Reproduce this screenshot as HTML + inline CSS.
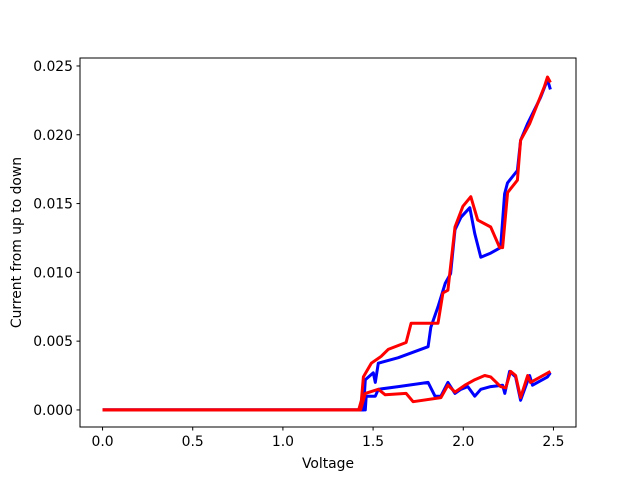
<!DOCTYPE html>
<html><head><meta charset="utf-8"><style>body{margin:0;background:#fff}svg{display:block}text{font-family:"DejaVu Sans","Liberation Sans",sans-serif;font-size:13.9px;fill:#000}</style></head>
<body>
<svg id="chart" width="640" height="480">
<rect x="0" y="0" width="640" height="480" fill="#fff"/>
<g id="plot"></g>
<rect x="80" y="58" width="496" height="369" fill="none" stroke="#000" stroke-width="1"/>
<g id="axes"></g>
<text x="328" y="468" text-anchor="middle">Voltage</text>
<text transform="translate(21,242.5) rotate(-90)" text-anchor="middle">Current from up to down</text>
</svg>
<script>
const xTicks=[0,0.5,1.0,1.5,2.0,2.5];
const xTickLabels=["0.0","0.5","1.0","1.5","2.0","2.5"];
const yTicks=[0,0.005,0.01,0.015,0.02,0.025];
const yTickLabels=["0.000","0.005","0.010","0.015","0.020","0.025"];
const blueUpperX=[0,1.43,1.446,1.457,1.501,1.512,1.529,1.64,1.805,1.82,1.86,1.90,1.93,1.954,1.987,2.036,2.064,2.097,2.152,2.207,2.229,2.245,2.30,2.318,2.356,2.428,2.467,2.483];
const blueUpperY=[0,0,0,0.0022,0.0027,0.0020,0.0034,0.0038,0.0046,0.0060,0.0075,0.0092,0.0099,0.0131,0.0140,0.0147,0.0128,0.0111,0.0114,0.0118,0.0157,0.0165,0.0174,0.0196,0.0208,0.0227,0.0240,0.0233];
const blueLowerX=[0,1.43,1.457,1.462,1.512,1.529,1.64,1.805,1.843,1.876,1.915,1.954,1.987,2.025,2.064,2.097,2.152,2.218,2.23,2.257,2.29,2.318,2.368,2.384,2.467,2.483];
const blueLowerY=[0,0,0,0.0010,0.0010,0.0015,0.0017,0.0020,0.0010,0.0010,0.0020,0.0012,0.0015,0.0017,0.0010,0.0015,0.0017,0.0018,0.0012,0.0028,0.0024,0.0007,0.0025,0.0018,0.0024,0.0027];
const redUpperX=[0,1.42,1.435,1.446,1.49,1.545,1.584,1.683,1.711,1.86,1.887,1.915,1.954,1.998,2.042,2.08,2.152,2.202,2.218,2.246,2.30,2.318,2.368,2.45,2.467,2.483];
const redUpperY=[0,0,0.0007,0.0024,0.0034,0.0039,0.0044,0.0049,0.0063,0.0063,0.0085,0.0087,0.0133,0.0148,0.0155,0.0138,0.0133,0.0118,0.0118,0.0158,0.0167,0.0196,0.0208,0.0235,0.0242,0.0238];
const redLowerX=[0,1.43,1.457,1.529,1.567,1.683,1.722,1.876,1.915,1.954,2.009,2.064,2.119,2.152,2.207,2.235,2.263,2.29,2.318,2.357,2.373,2.483];
const redLowerY=[0,0,0.0012,0.0015,0.0011,0.0012,0.0006,0.0009,0.0018,0.0013,0.0018,0.0022,0.0025,0.0024,0.0017,0.0016,0.0028,0.0025,0.0009,0.0025,0.0020,0.0028];

const X0=80,X1=576,Y0=427,Y1=58;
const xMin=-0.125,xMax=2.625,yMin=-0.00124,yMax=0.02558;
const sx=v=>X0+(v-xMin)/(xMax-xMin)*(X1-X0);
const sy=v=>Y0-(v-yMin)/(yMax-yMin)*(Y0-Y1);
const NS="http://www.w3.org/2000/svg";
const plot=document.getElementById('plot');
const axes=document.getElementById('axes');
function series(xs,ys,color,name){
  const p=document.createElementNS(NS,'polyline');
  p.setAttribute('points',xs.map((x,i)=>sx(x).toFixed(1)+','+sy(ys[i]).toFixed(1)).join(' '));
  p.setAttribute('fill','none');p.setAttribute('stroke',color);p.setAttribute('stroke-width','3');
  p.setAttribute('stroke-linejoin','round');
  
  
  plot.appendChild(p);
}
series(blueUpperX,blueUpperY,'#0000ff','blue-upper-series');
series(blueLowerX,blueLowerY,'#0000ff','blue-lower-series');
series(redUpperX,redUpperY,'#ff0000','red-upper-series');
series(redLowerX,redLowerY,'#ff0000','red-lower-series');
xTicks.forEach((v,i)=>{
  const x=sx(v);
  const l=document.createElementNS(NS,'line');
  l.setAttribute('x1',x);l.setAttribute('x2',x);l.setAttribute('y1',Y0);l.setAttribute('y2',Y0+3.5);l.setAttribute('stroke','#000');
  
  
  axes.appendChild(l);
  const t=document.createElementNS(NS,'text');
  t.setAttribute('x',x);t.setAttribute('y',Y0+19);t.setAttribute('text-anchor','middle');t.textContent=xTickLabels[i];
  
  
  axes.appendChild(t);
});
yTicks.forEach((v,i)=>{
  const y=sy(v);
  const l=document.createElementNS(NS,'line');
  l.setAttribute('x1',X0-3.5);l.setAttribute('x2',X0);l.setAttribute('y1',y);l.setAttribute('y2',y);l.setAttribute('stroke','#000');
  
  
  axes.appendChild(l);
  const t=document.createElementNS(NS,'text');
  t.setAttribute('x',X0-7);t.setAttribute('y',y+5);t.setAttribute('text-anchor','end');t.textContent=yTickLabels[i];
  
  
  axes.appendChild(t);
});
</script>
</body></html>
